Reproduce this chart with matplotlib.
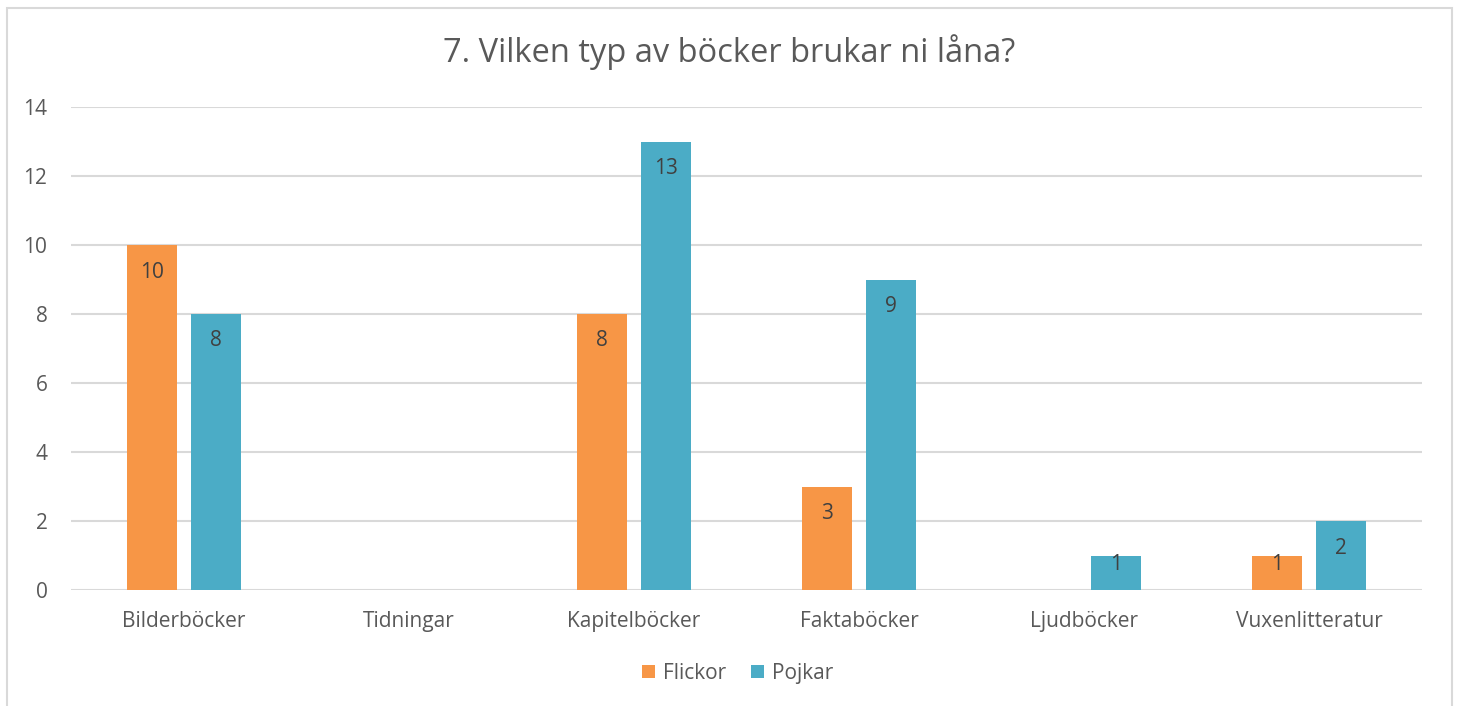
import numpy as np
import matplotlib.pyplot as plt
from matplotlib.patches import Rectangle

plt.rcParams['font.family'] = ['Open Sans', 'DejaVu Sans']

categories = ['Bilderböcker', 'Tidningar', 'Kapitelböcker', 'Faktaböcker', 'Ljudböcker', 'Vuxenlitteratur']
flickor = [10, 0, 8, 3, 0, 1]
pojkar = [8, 0, 13, 9, 1, 2]
series_names = ['Flickor', 'Pojkar']
colors = ['#F79646', '#4BACC6']

fig = plt.figure(figsize=(14.59, 7.06), dpi=100)
ax = fig.add_axes([71 / 1459, 1 - 590 / 706, (1422 - 71) / 1459, (590 - 107) / 706])

# outer chart frame (bottom edge is cut off in the original)
fig.add_artist(Rectangle((7 / 1459, -0.05), (1452 - 7) / 1459, 1.05 - 8 / 706,
                         transform=fig.transFigure, fill=False, edgecolor='#D9D9D9', lw=1.5))

ax.set_xlim(-0.5, len(categories) - 0.5)
ax.set_ylim(0, 14)
unit_px = (590 - 107) / 14  # pixels per value unit

x = np.arange(len(categories))
w = 0.222
off = 0.142
for vals, name, col, sign in [(flickor, series_names[0], colors[0], -1), (pojkar, series_names[1], colors[1], 1)]:
    bars = ax.bar(x + sign * off, vals, w, color=col, label=name, zorder=3)
    for b, v in zip(bars, vals):
        if v > 0:
            # label sits inside the top end, but short bars push it up
            drop = min(27, v * unit_px - 26) * 0.72
            ax.annotate(str(v), (b.get_x() + b.get_width() / 2, v), xytext=(0, -drop),
                        textcoords='offset points', ha='center', va='center',
                        fontsize=15, color='#404040', zorder=4)

ax.set_yticks(range(0, 15, 2))
ax.set_xticks(x)
ax.set_xticklabels(categories)
ax.grid(axis='y', color='#D9D9D9', lw=1.5, zorder=0)
for s in ax.spines.values():
    s.set_visible(False)
ax.tick_params(length=0, labelsize=15, colors='#595959')
ax.tick_params(axis='x', pad=15)
ax.tick_params(axis='y', pad=17)

fig.text(0.5, 1 - 52 / 706, '7. Vilken typ av böcker brukar ni låna?', ha='center', va='center',
         fontsize=23.5, color='#595959')

ax.legend(loc='center', bbox_to_anchor=((738 - 71) / 1351, -0.172), ncol=2, frameon=False, fontsize=15,
          handlelength=0.6, handleheight=0.6, handletextpad=0.4, columnspacing=1.2,
          labelcolor='#595959')

fig.savefig('out.png', dpi=100)
